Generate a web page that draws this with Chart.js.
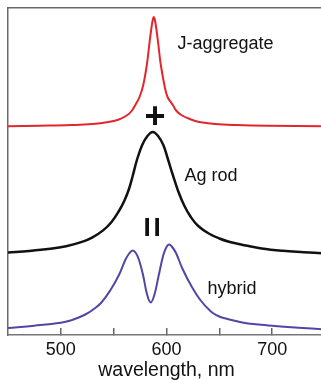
<!DOCTYPE html>
<html>
<head>
<meta charset="utf-8">
<script src="https://cdn.jsdelivr.net/npm/chart.js@4/dist/chart.umd.min.js"></script>
<style>
  html, body { margin: 0; padding: 0; background: #fff; overflow: hidden; }
  #wrap { width: 321px; height: 380px; overflow: hidden; }
</style>
</head>
<body>
<div id="wrap"><canvas id="spectra" width="330" height="380"></canvas></div>
<script>
// J-aggregate (red)
const jWavelength = [450, 480, 510, 530, 545, 555, 563, 567, 570.5, 574.5, 578, 581.5, 584, 586, 587.2, 588,
                     588.8, 590, 592, 594.5, 598, 601, 606, 609.5, 614, 622, 631, 646, 666, 696, 750];
const jValues = [209.8, 210.3, 211, 212, 214, 216.5, 221, 225, 231, 239, 251, 272, 294, 310, 317, 319,
                 317, 310, 294, 272, 251, 239, 231, 225, 221, 217, 214, 212, 211, 210.3, 209.8];

// Ag rod (black)
const rodWavelength = [450, 470, 490, 505, 520, 530, 540, 548, 555, 560, 564.5, 568, 572, 577, 582, 587,
                       592, 597, 601, 606, 611, 617, 623, 630, 640, 650, 660, 675, 690, 710, 730, 750];
const rodValues = [83.5, 85, 87.2, 89.8, 94.1, 98.7, 105.6, 114, 125, 135, 147, 160, 176, 191, 200, 204,
                   200, 191, 178, 161, 145, 130, 119, 110, 102.5, 97.5, 94, 90.5, 87.5, 85.2, 83.8, 82.5];

// hybrid (blue)
const hybridWavelength = [450, 475, 500, 510, 518, 524, 530, 538, 547, 555, 561, 565, 568, 571, 574, 578, 581.5, 585,
                          588.5, 592.5, 597, 600, 602.5, 605, 609, 615, 623, 632, 642, 648, 654, 673, 700, 725, 750];
const hybridValues = [8, 10.3, 13.3, 15.8, 19, 22, 26, 33, 46, 61, 76, 83, 85.5, 83, 76, 60, 42, 33.5,
                      41, 60, 81, 89, 91.5, 89.5, 83, 67.5, 51, 36, 24.5, 20.5, 18, 13.3, 10.3, 8.3, 6.5];

const tickValues = [500, 550, 600, 650, 700];
const tickLabels = ['500', '', '600', '', '700'];

const FONT = "'Liberation Sans', Arial, sans-serif";

function toPoints(xs, ys) {
    return xs.map((x, i) => ({ x: x, y: ys[i] }));
}

// text labels placed in data coordinates
const notes = [
    { text: 'J-aggregate', x: 610.3, y: 287.3, font: '18px ' + FONT, align: 'left', base: 'alphabetic' },
    { text: 'Ag rod', x: 617, y: 155.3, font: '18px ' + FONT, align: 'left', base: 'alphabetic' },
    { text: 'hybrid', x: 638.7, y: 41.7, font: '18px ' + FONT, align: 'left', base: 'alphabetic' },
    { text: '+', x: 589.2, y: 218, font: 'bold 36px ' + FONT, align: 'center', base: 'middle' },
    { text: 'I', x: 581.6, y: 107, font: 'bold 26px ' + FONT, align: 'center', base: 'middle' },
    { text: 'I', x: 591.1, y: 107, font: 'bold 26px ' + FONT, align: 'center', base: 'middle' }
];

const notesPlugin = {
    id: 'notes',
    afterDatasetsDraw(chart) {
        const ctx = chart.ctx;
        const xs = chart.scales.x;
        const ys = chart.scales.y;
        ctx.save();
        ctx.fillStyle = '#111';
        notes.forEach(n => {
            ctx.font = n.font;
            ctx.textAlign = n.align;
            ctx.textBaseline = n.base;
            ctx.fillText(n.text, xs.getPixelForValue(n.x), ys.getPixelForValue(n.y));
        });
        ctx.restore();
    }
};

const ctx = document.getElementById('spectra').getContext('2d');
new Chart(ctx, {
    type: 'line',
    data: {
        datasets: [
            {
                label: 'J-aggregate',
                data: toPoints(jWavelength, jValues),
                borderColor: '#e3262c',
                borderWidth: 2,
                pointRadius: 0,
                fill: false,
                tension: 0.4
            },
            {
                label: 'Ag rod',
                data: toPoints(rodWavelength, rodValues),
                borderColor: '#111111',
                borderWidth: 2.5,
                pointRadius: 0,
                fill: false,
                tension: 0.4
            },
            {
                label: 'hybrid',
                data: toPoints(hybridWavelength, hybridValues),
                borderColor: '#4f47a6',
                borderWidth: 2,
                pointRadius: 0,
                fill: false,
                tension: 0.4
            }
        ]
    },
    options: {
        responsive: false,
        animation: false,
        devicePixelRatio: 1,
        layout: { padding: { top: 8, left: 8, right: 5, bottom: 0 } },
        plugins: {
            legend: { display: false },
            tooltip: { enabled: false }
        },
        scales: {
            x: {
                type: 'linear',
                position: 'bottom',
                min: 450,
                max: 750,
                afterBuildTicks: (scale) => {
                    scale.ticks = tickValues.map(v => ({ value: v }));
                },
                afterFit: (scale) => { scale.height = 45; },
                ticks: {
                    autoSkip: false,
                    maxRotation: 0,
                    padding: 11.5,
                    color: '#111',
                    font: { family: FONT, size: 18 },
                    callback: (value) => tickLabels[tickValues.indexOf(value)]
                },
                grid: {
                    drawOnChartArea: false,
                    drawTicks: true,
                    tickLength: -7,
                    color: '#666',
                    lineWidth: 1.5
                },
                border: { display: true, color: '#777', width: 1.5 },
                title: {
                    display: true,
                    text: 'wavelength, nm',
                    color: '#111',
                    font: { family: FONT, size: 19.5, lineHeight: 1 },
                    padding: { top: 0, bottom: 0 }
                }
            },
            xTop: {
                type: 'linear',
                position: 'top',
                min: 450,
                max: 750,
                afterFit: (scale) => { scale.height = 0; },
                ticks: { display: false },
                grid: { drawOnChartArea: false, drawTicks: false },
                border: { display: true, color: '#6a6a6a', width: 1.5 }
            },
            y: {
                type: 'linear',
                min: 1,
                max: 328,
                afterFit: (scale) => { scale.width = 0; },
                ticks: { display: false },
                grid: { drawOnChartArea: false, drawTicks: false },
                border: { display: true, color: '#6a6a6a', width: 1.5 }
            }
        }
    },
    plugins: [notesPlugin]
});
</script>
</body>
</html>
